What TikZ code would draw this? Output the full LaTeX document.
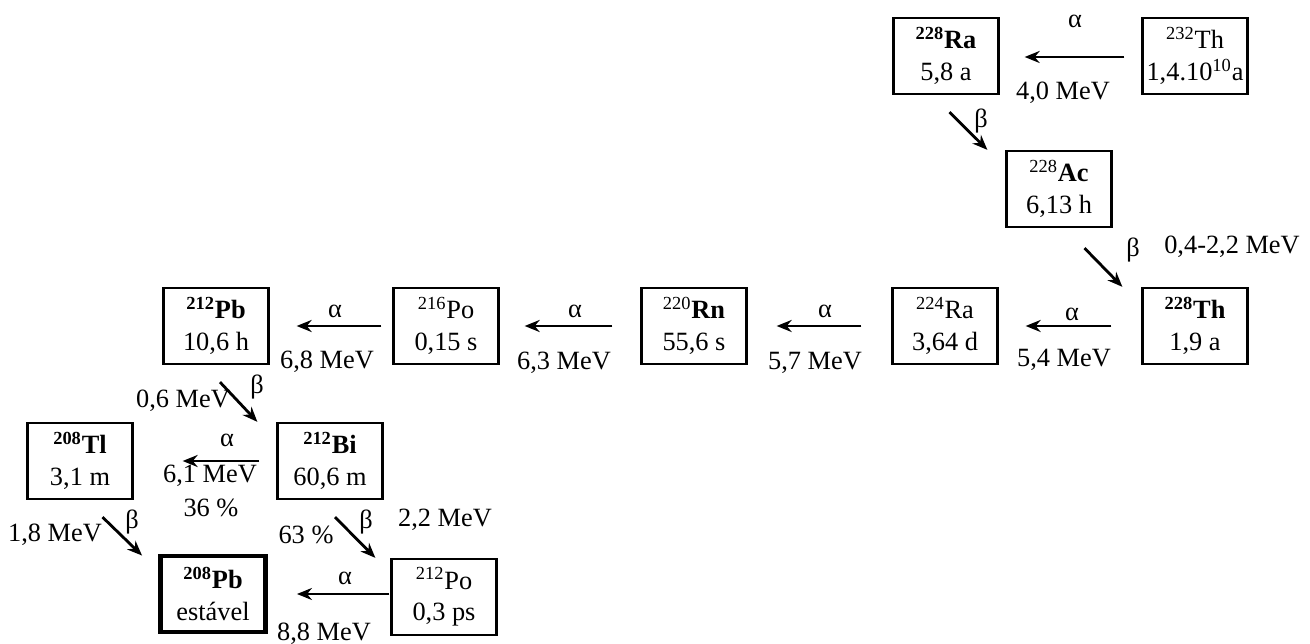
\documentclass[tikz,border=0pt]{standalone}
\usepackage{fontspec}
\setmainfont{Liberation Serif}
\usetikzlibrary{arrows.meta}

\begin{document}
\begin{tikzpicture}[x=0.02cm, y=-0.02cm, >={Stealth[length=3mm, width=2.4mm]},
  font=\fontsize{15}{18}\selectfont,
  box/.style={draw, line width=1.3pt, minimum width=2.1cm, minimum height=1.52cm, align=center, inner sep=1pt},
  stablebox/.style={box, line width=2.8pt},
  lbl/.style={inner sep=0pt},
  decay/.style={->, line width=1.6pt}]
\useasboundingbox (0,0) rectangle (1310,644);
% top
\node[box] (th232) at (1195,56) {\textsuperscript{232}Th\\1,4.10\textsuperscript{10}a};
\node[box] (ra228) at (946,56) {\textbf{\textsuperscript{228}Ra}\\5,8 a};
\node[box] (ac228) at (1059,189) {\textsuperscript{228}\textbf{Ac}\\6,13 h};
% middle row
\node[box] (th228) at (1195,326) {\textbf{\textsuperscript{228}Th}\\1,9 a};
\node[box] (ra224) at (945,326) {\textsuperscript{224}Ra\\3,64 d};
\node[box] (rn220) at (694,326) {\textsuperscript{220}\textbf{Rn}\\55,6 s};
\node[box] (po216) at (446,326) {\textsuperscript{216}Po\\0,15 s};
\node[box] (pb212) at (216,326) {\textbf{\textsuperscript{212}Pb}\\10,6 h};
% bottom
\node[box] (tl208) at (80,461) {\textbf{\textsuperscript{208}Tl}\\3,1 m};
\node[box] (bi212) at (330,461) {\textbf{\textsuperscript{212}Bi}\\60,6 m};
\node[stablebox] (pb208) at (213,594) {\textbf{\textsuperscript{208}Pb}\\estável};
\node[box] (po212) at (444,597) {\textsuperscript{212}Po\\0,3 ps};
% alpha decays
\draw[decay] ([shift={(-17,1)}]th232.west) -- ([shift={(25,1)}]ra228.east);
\draw[decay] ([shift={(-30,0)}]th228.west) -- ([shift={(27,0)}]ra224.east);
\draw[decay] ([shift={(-30,0)}]ra224.west) -- ([shift={(29,0)}]rn220.east);
\draw[decay] ([shift={(-28,0)}]rn220.west) -- ([shift={(25,0)}]po216.east);
\draw[decay] ([shift={(-11,0)}]po216.west) -- ([shift={(27,0)}]pb212.east);
\draw[decay] ([shift={(-17,0)}]bi212.west) -- ([shift={(49,0)}]tl208.east);
\draw[decay] ([shift={(-1,-3)}]po212.west) -- ([shift={(29,0)}]pb208.east);
% beta decays
\draw[decay] ([shift={(3.5,17)}]ra228.south) -- ([shift={(-18,0)}]ac228.north west);
\draw[decay] ([shift={(25.5,20)}]ac228.south) -- ([shift={(-19,0)}]th228.north west);
\draw[decay] ([shift={(4,17)}]pb212.south) -- ([shift={(-19,0)}]bi212.north west);
\draw[decay] ([shift={(22.5,17)}]tl208.south) -- ([shift={(-16,2)}]pb208.north west);
\draw[decay] ([shift={(5,17)}]bi212.south) -- ([shift={(-15,0)}]po212.north west);
% labels
\node[lbl] (al1) at (1075,21) {α};
\node[lbl] (en1) at (1063,93) {4,0 MeV};
\node[lbl] (be1) at (981,121) {β};
\node[lbl] (be2) at (1133,250) {β};
\node[lbl] (en2) at (1232,247) {0,4-2,2 MeV};
\node[lbl] (al2) at (1072,314) {α};
\node[lbl] (en3) at (1064,360) {5,4 MeV};
\node[lbl] (al3) at (825,311) {α};
\node[lbl] (en4) at (815,363) {5,7 MeV};
\node[lbl] (al4) at (575,311) {α};
\node[lbl] (en5) at (564,363) {6,3 MeV};
\node[lbl] (al5) at (335,311) {α};
\node[lbl] (en6) at (327,362) {6,8 MeV};
\node[lbl] (en7) at (183,401) {0,6 MeV};
\node[lbl] (be3) at (257,387) {β};
\node[lbl] (al6) at (227,440) {α};
\node[lbl] (en8) at (210,476) {6,1 MeV};
\node[lbl] (pc1) at (211,508) {36 \%};
\node[lbl] (en9) at (55,535) {1,8 MeV};
\node[lbl] (be4) at (132,522) {β};
\node[lbl] (pc2) at (306,535) {63 \%};
\node[lbl] (be5) at (366,522) {β};
\node[lbl] (en10) at (445,520) {2,2 MeV};
\node[lbl] (al7) at (345,578) {α};
\node[lbl] (en11) at (324,634) {8,8 MeV};
\end{tikzpicture}
\end{document}
